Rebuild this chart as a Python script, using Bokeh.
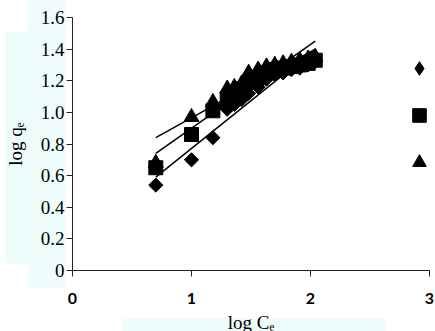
import math
from bokeh.plotting import figure
from bokeh.models import (FixedTicker, CustomJSTickFormatter, BoxAnnotation, Legend,
                          LegendItem, LinearAxis, Range1d)
from bokeh.embed import file_html
from bokeh.resources import INLINE

# ---------------- data ----------------
log_ce = [0.70, 1.00, 1.18, 1.30, 1.36, 1.42, 1.48, 1.56, 1.63, 1.70, 1.77, 1.84, 1.91, 1.98, 2.04]
qe_diamond = [0.54, 0.70, 0.84, 1.02, 1.05, 1.08, 1.12, 1.16, 1.21, 1.24, 1.25, 1.27, 1.28, 1.30, 1.32]
qe_square = [0.65, 0.86, 1.01, 1.08, 1.12, 1.15, 1.19, 1.22, 1.25, 1.27, 1.28, 1.29, 1.30, 1.31, 1.33]
qe_triangle = [0.68, 0.97, 1.065, 1.15, 1.16, 1.18, 1.25, 1.27, 1.29, 1.30, 1.31, 1.32, 1.33, 1.34, 1.35]

trend_x = [0.70, 2.04]
trend_diamond = [0.59, 1.40]
trend_square = [0.74, 1.45]
trend_triangle = [0.84, 1.40]

x_ticks = [0, 1, 2, 3]
y_ticks = [0, 0.2, 0.4, 0.6, 0.8, 1.0, 1.2, 1.4, 1.6]
x_title = "log C\u2091"
y_title = "log q\u2091"

# ---------------- layout ----------------
W, H = 435, 331
PX_X0, PX_X3 = 72, 429      # canvas px of x = 0 and x = 3
PX_Y0, PX_Y16 = 270, 17     # canvas py of y = 0 and y = 1.6
sx = (PX_X3 - PX_X0) / 3.0
sy = (PX_Y0 - PX_Y16) / 1.6
x_range = Range1d(-PX_X0 / sx, 3 + (W - PX_X3) / sx)
y_range = Range1d(-(H - PX_Y0) / sy, 1.6 + PX_Y16 / sy)

def dx(px):
    return x_range.start + px / sx

def dy(py):
    return y_range.end - py / sy

SERIF = "Liberation Serif"
AXC = "#222222"

p = figure(width=W, height=H, x_range=x_range, y_range=y_range,
           output_backend="svg", toolbar_location=None,
           x_axis_location=None, y_axis_location=None,
           min_border_left=0, min_border_right=0, min_border_top=0, min_border_bottom=0)
p.outline_line_color = None
p.grid.visible = False
p.background_fill_color = "white"
p.border_fill_color = "white"

CYAN = "#EEFCFC"
for (l, r, t, b) in [(28, 65, 0, 288), (5, 65, 31, 263), (122, 385, 318, 331)]:
    p.add_layout(BoxAnnotation(left=dx(l), right=dx(r), top=dy(t), bottom=dy(b),
                               fill_color=CYAN, fill_alpha=1, line_color=None,
                               level="underlay"))

common = dict(axis_line_color=AXC, major_tick_line_color=AXC, major_tick_in=0,
              major_tick_out=6, minor_tick_line_color=None,
              major_label_text_color="black",
              axis_label_text_font=SERIF, axis_label_text_font_style="normal",
              axis_label_text_font_size="19px", axis_label_text_color="black")

yaxis = LinearAxis(fixed_location=0, bounds=(0, 1.6),
                   ticker=FixedTicker(ticks=y_ticks),
                   formatter=CustomJSTickFormatter(code="return tick == 0 ? '0' : tick.toFixed(1);"),
                   major_label_text_font=SERIF, major_label_text_font_style="normal",
                   major_label_text_font_size="19px", major_label_standoff=2,
                   axis_label=y_title, axis_label_standoff=12, **common)
xaxis = LinearAxis(fixed_location=0, bounds=(0, 3),
                   ticker=FixedTicker(ticks=x_ticks),
                   formatter=CustomJSTickFormatter(code="return tick.toFixed(0);"),
                   major_label_text_font="Lato", major_label_text_font_style="bold",
                   major_label_text_font_size="16px", major_label_standoff=16,
                   axis_label=x_title, axis_label_standoff=5, **common)
p.add_layout(yaxis, "left")
p.add_layout(xaxis, "below")

# data
r_dia = p.scatter(log_ce, qe_diamond, marker="square", angle=math.pi / 4, size=10,
                  fill_color="black", line_color="black")
r_sq = p.scatter(log_ce, qe_square, marker="square", size=14,
                 fill_color="black", line_color="black")
r_tri = p.scatter(log_ce, qe_triangle, marker="triangle", size=15,
                  fill_color="black", line_color="black")
key_dia = p.scatter(log_ce, qe_diamond, marker="diamond", fill_color="black",
                    line_color="black", visible=False)

for ty in (trend_diamond, trend_square, trend_triangle):
    p.line(trend_x, ty, line_color="black", line_width=1.5)

legend = Legend(items=[LegendItem(label=" ", renderers=[key_dia]),
                       LegendItem(label=" ", renderers=[r_sq]),
                       LegendItem(label=" ", renderers=[r_tri])],
                location=(402, 152), orientation="vertical",
                glyph_width=34, glyph_height=34, spacing=13, padding=0, margin=0,
                label_standoff=0, label_width=0, label_height=34,
                label_text_font_size="1px", border_line_color=None,
                background_fill_alpha=0)
p.add_layout(legend)

open("out.html", "w").write(file_html(p, INLINE))
